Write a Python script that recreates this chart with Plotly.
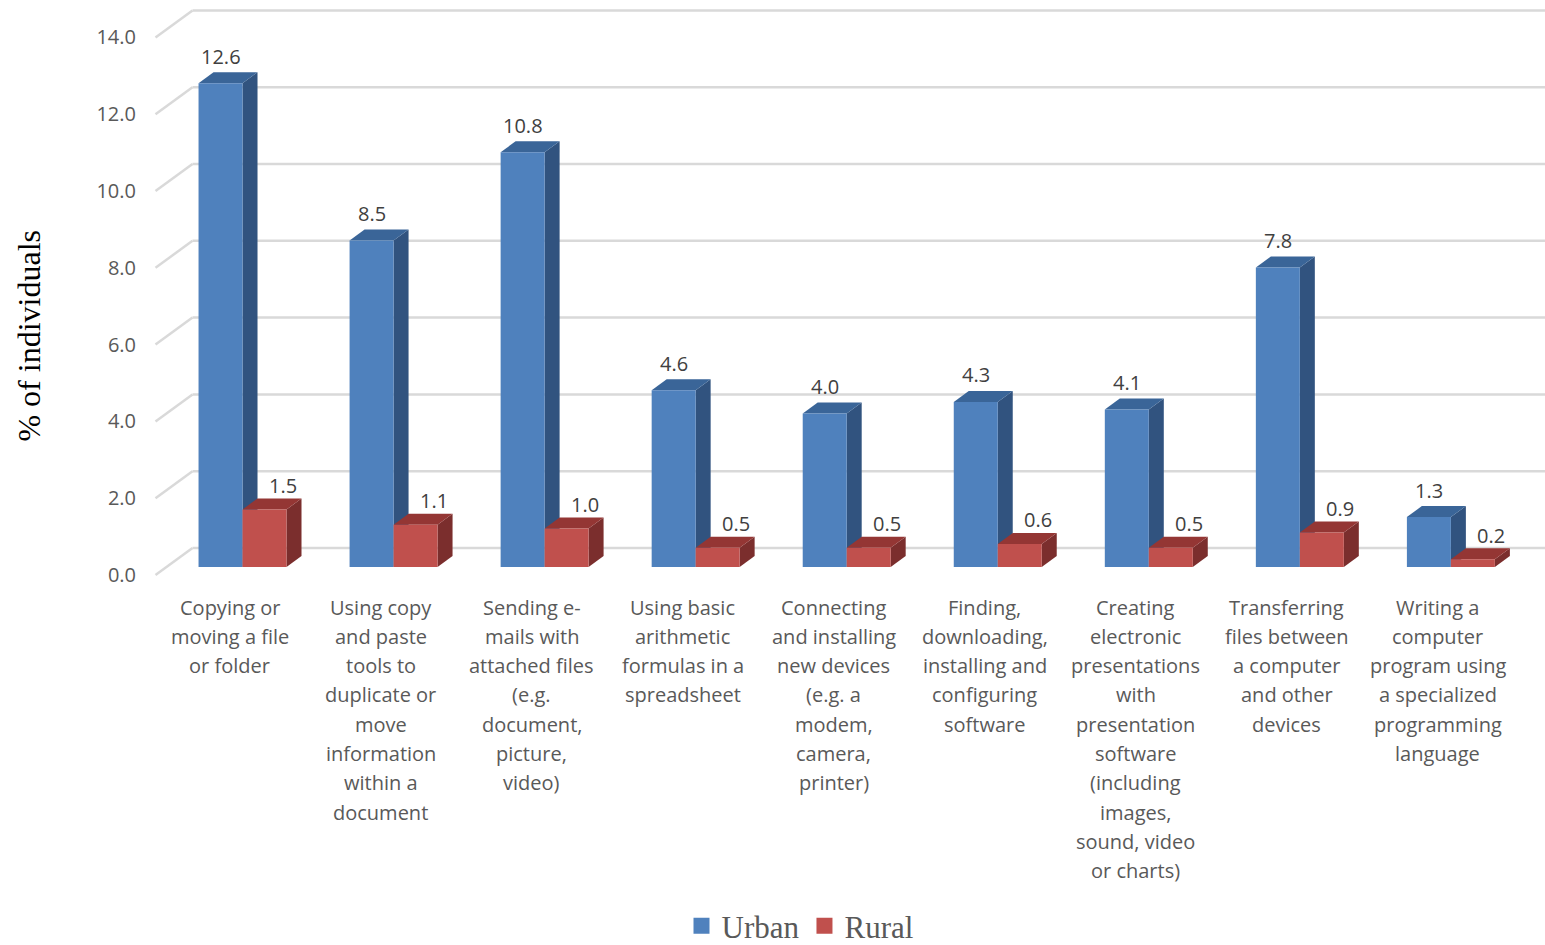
import plotly.graph_objects as go

categories = [
    "Copying or<br>moving a file<br>or folder",
    "Using copy<br>and paste<br>tools to<br>duplicate or<br>move<br>information<br>within a<br>document",
    "Sending e-<br>mails with<br>attached files<br>(e.g.<br>document,<br>picture,<br>video)",
    "Using basic<br>arithmetic<br>formulas in a<br>spreadsheet",
    "Connecting<br>and installing<br>new devices<br>(e.g. a<br>modem,<br>camera,<br>printer)",
    "Finding,<br>downloading,<br>installing and<br>configuring<br>software",
    "Creating<br>electronic<br>presentations<br>with<br>presentation<br>software<br>(including<br>images,<br>sound, video<br>or charts)",
    "Transferring<br>files between<br>a computer<br>and other<br>devices",
    "Writing a<br>computer<br>program using<br>a specialized<br>programming<br>language",
]
urban = [12.6, 8.5, 10.8, 4.6, 4.0, 4.3, 4.1, 7.8, 1.3]
rural = [1.5, 1.1, 1.0, 0.5, 0.5, 0.6, 0.5, 0.9, 0.2]
y_ticks = [0, 2, 4, 6, 8, 10, 12, 14]
y_ticktext = ["%.1f" % v for v in y_ticks]

# ---- layout geometry (pixels) ----
W, H = 1545, 945
ML, MR, MT = 166.5, 0, 0
PLOT_BOTTOM = 600
MB = H - PLOT_BOTTOM
PW = W - ML - MR
PH = PLOT_BOTTOM - MT
K = 38.4            # px per unit
CAT_W = 151.1       # px per category
BAR_ZERO = 567      # px of bar front-plane zero
FRONT_ZERO = 575    # px of front edge (tick labels)
BACK_OFF = 27       # px from front edge to back wall (vertical)
SLANT_X0, SLANT_X1 = 155, 192
DX_PX, DY_PX = 15, 11  # bar depth
BAR_W = 44 / CAT_W

x_dom_end = (9 * CAT_W) / PW
dxu = DX_PX / CAT_W
dyu = DY_PX / K
y_range = [(BAR_ZERO - PLOT_BOTTOM) / K, (BAR_ZERO - MT) / K]
y2_range = [(FRONT_ZERO - PLOT_BOTTOM) / K, (FRONT_ZERO - MT) / K]
back_u = BACK_OFF / K

def px_to_paper_x(px):
    return (px - ML) / PW

def px_to_paper_y(py):
    return (PLOT_BOTTOM - py) / PH

URBAN_C = ["#4F81BD", "#3A6598", "#31537F"]  # front, top, side
RURAL_C = ["#C0504D", "#943634", "#7B2E2D"]
TEXT_C = "#595959"
GRID_C = "#D9D9D9"
LABEL_FONT = "Open Sans"
SERIF = "Liberation Serif"

idx = list(range(len(categories)))
fig = go.Figure()

fig.add_trace(go.Bar(x=idx, y=urban, width=BAR_W, offset=-BAR_W,
                     marker=dict(color=URBAN_C[0], line=dict(width=0)),
                     showlegend=False, name="Urban"))
fig.add_trace(go.Bar(x=idx, y=rural, width=BAR_W, offset=0,
                     marker=dict(color=RURAL_C[0], line=dict(width=0)),
                     showlegend=False, name="Rural"))
# legend entries
fig.add_trace(go.Scatter(x=[None], y=[None], mode="markers", name="Urban",
                         marker=dict(symbol="square", size=16, color=URBAN_C[0])))
fig.add_trace(go.Scatter(x=[None], y=[None], mode="markers", name="Rural",
                         marker=dict(symbol="square", size=16, color=RURAL_C[0])))
# dummy on y2 so the label axis is drawn
fig.add_trace(go.Scatter(x=[0], y=[0], yaxis="y2", mode="markers",
                         marker=dict(opacity=0), hoverinfo="skip", showlegend=False))

shapes = []
# back wall gridlines and slanted side lines
for v in y_ticks:
    shapes.append(dict(type="line", xref="paper", yref="y2",
                       x0=px_to_paper_x(SLANT_X1), x1=1.0,
                       y0=v + back_u, y1=v + back_u,
                       line=dict(color=GRID_C, width=2.5), layer="below"))
    shapes.append(dict(type="line", xref="paper", yref="y2",
                       x0=px_to_paper_x(SLANT_X0), x1=px_to_paper_x(SLANT_X1),
                       y0=v, y1=v + back_u,
                       line=dict(color=GRID_C, width=2.5), layer="below"))

def faces(xl, xr, v, colors):
    top = f"M{xl},{v} L{xr},{v} L{xr+dxu},{v+dyu} L{xl+dxu},{v+dyu} Z"
    side = f"M{xr},0 L{xr},{v} L{xr+dxu},{v+dyu} L{xr+dxu},{dyu} Z"
    return [
        dict(type="path", xref="x", yref="y", path=side, fillcolor=colors[2],
             line=dict(width=0), layer="between"),
        dict(type="path", xref="x", yref="y", path=top, fillcolor=colors[1],
             line=dict(width=0), layer="between"),
    ]

for i in idx:
    shapes += faces(i - BAR_W, i, urban[i], URBAN_C)
for i in idx:
    shapes += faces(i, i + BAR_W, rural[i], RURAL_C)

annotations = []
for i in idx:
    annotations.append(dict(x=i - BAR_W / 2, y=urban[i], xref="x", yref="y",
                            text="%.1f" % urban[i], showarrow=False,
                            yanchor="middle", yshift=DY_PX + 16,
                            font=dict(family=LABEL_FONT, size=20, color="#404040")))
    annotations.append(dict(x=i + BAR_W / 2, y=rural[i], xref="x", yref="y",
                            text="%.1f" % rural[i], showarrow=False,
                            yanchor="middle", yshift=DY_PX + 13, xshift=18,
                            font=dict(family=LABEL_FONT, size=20, color="#404040")))
    # category labels, one line per annotation
    for j, line in enumerate(categories[i].split("<br>")):
        annotations.append(dict(x=i, y=0, xref="x", yref="paper",
                                text=line, showarrow=False,
                                xanchor="center", yanchor="middle",
                                xshift=-13, yshift=-(607 - PLOT_BOTTOM) - j * 29.3,
                                font=dict(family=LABEL_FONT, size=20, color=TEXT_C)))

annotations.append(dict(x=px_to_paper_x(28), y=px_to_paper_y(336), xref="paper", yref="paper",
                        text="% of individuals", textangle=-90, showarrow=False,
                        xanchor="center", yanchor="middle",
                        font=dict(family=SERIF, size=32, color="#000000")))

fig.update_layout(
    width=W, height=H,
    margin=dict(l=ML, r=MR, t=MT, b=MB, pad=0, autoexpand=False),
    paper_bgcolor="white", plot_bgcolor="white",
    barmode="overlay",
    xaxis=dict(domain=[0, x_dom_end], range=[-0.5, 8.5], visible=False),
    yaxis=dict(range=y_range, visible=False),
    yaxis2=dict(range=y2_range, overlaying="y", side="left", anchor="x",
                tickvals=y_ticks, ticktext=y_ticktext, showgrid=False, zeroline=False,
                showline=False, ticks="", ticklabelstandoff=30,
                tickfont=dict(family=LABEL_FONT, size=20, color=TEXT_C)),
    shapes=shapes,
    annotations=annotations,
    legend=dict(orientation="h", xref="container", yref="container",
                x=800 / W, xanchor="center",
                y=(H - 926) / H, yanchor="middle",
                font=dict(family=SERIF, size=31, color=TEXT_C),
                itemclick=False, bgcolor="rgba(0,0,0,0)"),
    showlegend=True,
)

fig.write_html("out.html")
